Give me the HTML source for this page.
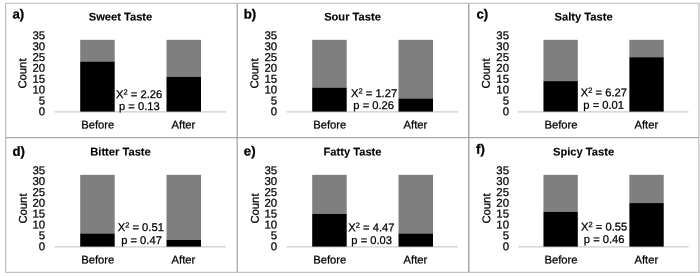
<!DOCTYPE html>
<html><head><meta charset="utf-8"><title>Taste charts</title>
<style>
html,body{margin:0;padding:0;background:#fff;}
body{width:700px;height:276px;overflow:hidden;}
svg{display:block;filter:blur(0.45px);}
text{font-family:"Liberation Sans",sans-serif;fill:#000;stroke:#000;stroke-width:0.25px;text-rendering:geometricPrecision;}
.t{font-size:11.15px;font-weight:bold;text-anchor:middle;stroke-width:0.1px;}
.l{font-size:13.2px;font-weight:bold;stroke-width:0.3px;}
.k{font-size:11.4px;text-anchor:end;}
.c{font-size:11.25px;text-anchor:middle;}
.s{font-size:11.2px;text-anchor:middle;}
</style></head><body>
<svg width="700" height="276" viewBox="0 0 700 276">
<rect x="0" y="0" width="700" height="276" fill="#fff"/>

<g stroke="#c2c2c2" stroke-width="1.1" fill="none">
<line x1="5" y1="3.3" x2="699.6" y2="3.3" stroke="#b8b8b8" stroke-width="1.1"/>
<line x1="698.9" y1="3.3" x2="698.9" y2="272.9" stroke="#cccccc" stroke-width="1.6"/>
<line x1="5.6" y1="3.3" x2="5.6" y2="272.9" stroke="#bebebe" stroke-width="1.2"/>
<line x1="5" y1="272.4" x2="699.6" y2="272.4" stroke="#c2c2c2" stroke-width="1.3"/>
</g>
<g stroke="#a8a8a8" stroke-width="1.3" fill="none">
<line x1="237.2" y1="3.3" x2="237.2" y2="272.4"/>
<line x1="468.8" y1="3.3" x2="468.8" y2="272.4" stroke-width="1.5"/>
<line x1="5.6" y1="137.6" x2="698.7" y2="137.6"/>
</g>

<g>
<text class="l" x="12.5" y="18.5" transform="rotate(0.03 12.5 18.5)">a)</text>
<text class="t" x="120.5" y="20.6" transform="rotate(0.03 120.5 20.6)">Sweet Taste</text>
<text class="k" x="45.1" y="115.3" transform="rotate(0.03 45.1 115.3)">0</text>
<text class="k" x="45.1" y="104.44" transform="rotate(0.03 45.1 104.44)">5</text>
<text class="k" x="45.1" y="93.59" transform="rotate(0.03 45.1 93.59)">10</text>
<text class="k" x="45.1" y="82.73" transform="rotate(0.03 45.1 82.73)">15</text>
<text class="k" x="45.1" y="71.87" transform="rotate(0.03 45.1 71.87)">20</text>
<text class="k" x="45.1" y="61.01" transform="rotate(0.03 45.1 61.01)">25</text>
<text class="k" x="45.1" y="50.16" transform="rotate(0.03 45.1 50.16)">30</text>
<text class="k" x="45.1" y="39.15" transform="rotate(0.03 45.1 39.15)">35</text>
<text class="c" transform="translate(26.2,73.5) rotate(-89.97)">Count</text>
<line x1="54.6" y1="111.85" x2="226" y2="111.85" stroke="#cdcdcd" stroke-width="1.4"/>
<rect x="80.2" y="39.84" width="34.50" height="21.71" fill="#7f7f7f"/>
<rect x="80.2" y="61.56" width="34.50" height="50.04" fill="#000"/>
<rect x="166.5" y="39.84" width="34.50" height="36.91" fill="#7f7f7f"/>
<rect x="166.5" y="76.76" width="34.50" height="34.84" fill="#000"/>
<text class="c" x="97.8" y="128.5" transform="rotate(0.03 97.8 128.5)">Before</text>
<text class="c" x="183.5" y="128.5" transform="rotate(0.03 183.5 128.5)">After</text>
<text class="s" x="139.2" y="98.0" transform="rotate(0.03 139.2 98.0)">X<tspan font-size="7.5px" dy="-3.6">2</tspan><tspan dy="3.6"> = 2.26</tspan></text>
<text class="s" x="139.4" y="110.0" transform="rotate(0.03 139.4 110.0)">p = 0.13</text>
</g>

<g>
<text class="l" x="243.7" y="18.5" transform="rotate(0.03 243.7 18.5)">b)</text>
<text class="t" x="352.5" y="20.6" transform="rotate(0.03 352.5 20.6)">Sour Taste</text>
<text class="k" x="277.1" y="115.3" transform="rotate(0.03 277.1 115.3)">0</text>
<text class="k" x="277.1" y="104.44" transform="rotate(0.03 277.1 104.44)">5</text>
<text class="k" x="277.1" y="93.59" transform="rotate(0.03 277.1 93.59)">10</text>
<text class="k" x="277.1" y="82.73" transform="rotate(0.03 277.1 82.73)">15</text>
<text class="k" x="277.1" y="71.87" transform="rotate(0.03 277.1 71.87)">20</text>
<text class="k" x="277.1" y="61.01" transform="rotate(0.03 277.1 61.01)">25</text>
<text class="k" x="277.1" y="50.16" transform="rotate(0.03 277.1 50.16)">30</text>
<text class="k" x="277.1" y="39.15" transform="rotate(0.03 277.1 39.15)">35</text>
<text class="c" transform="translate(258.2,73.5) rotate(-89.97)">Count</text>
<line x1="286.6" y1="111.85" x2="458" y2="111.85" stroke="#cdcdcd" stroke-width="1.4"/>
<rect x="312.2" y="39.84" width="34.50" height="47.77" fill="#7f7f7f"/>
<rect x="312.2" y="87.61" width="34.50" height="23.99" fill="#000"/>
<rect x="398.5" y="39.84" width="34.50" height="58.63" fill="#7f7f7f"/>
<rect x="398.5" y="98.47" width="34.50" height="13.13" fill="#000"/>
<text class="c" x="329.8" y="128.5" transform="rotate(0.03 329.8 128.5)">Before</text>
<text class="c" x="415.5" y="128.5" transform="rotate(0.03 415.5 128.5)">After</text>
<text class="s" x="374.1" y="97.1" transform="rotate(0.03 374.1 97.1)">X<tspan font-size="7.5px" dy="-3.6">2</tspan><tspan dy="3.6"> = 1.27</tspan></text>
<text class="s" x="373.7" y="109.0" transform="rotate(0.03 373.7 109.0)">p = 0.26</text>
</g>

<g>
<text class="l" x="476.5" y="18.5" transform="rotate(0.03 476.5 18.5)">c)</text>
<text class="t" x="583.58" y="20.6" transform="rotate(0.03 583.58 20.6)">Salty Taste</text>
<text class="k" x="509.02" y="115.3" transform="rotate(0.03 509.02 115.3)">0</text>
<text class="k" x="509.02" y="104.44" transform="rotate(0.03 509.02 104.44)">5</text>
<text class="k" x="509.02" y="93.59" transform="rotate(0.03 509.02 93.59)">10</text>
<text class="k" x="509.02" y="82.73" transform="rotate(0.03 509.02 82.73)">15</text>
<text class="k" x="509.02" y="71.87" transform="rotate(0.03 509.02 71.87)">20</text>
<text class="k" x="509.02" y="61.01" transform="rotate(0.03 509.02 61.01)">25</text>
<text class="k" x="509.02" y="50.16" transform="rotate(0.03 509.02 50.16)">30</text>
<text class="k" x="509.02" y="39.15" transform="rotate(0.03 509.02 39.15)">35</text>
<text class="c" transform="translate(489.7,73.5) rotate(-89.97)">Count</text>
<line x1="517.98" y1="111.85" x2="688.61" y2="111.85" stroke="#cdcdcd" stroke-width="1.4"/>
<rect x="543.46" y="39.84" width="34.35" height="41.26" fill="#7f7f7f"/>
<rect x="543.46" y="81.1" width="34.35" height="30.50" fill="#000"/>
<rect x="629.37" y="39.84" width="34.35" height="17.37" fill="#7f7f7f"/>
<rect x="629.37" y="57.21" width="34.35" height="54.39" fill="#000"/>
<text class="c" x="560.98" y="128.5" transform="rotate(0.03 560.98 128.5)">Before</text>
<text class="c" x="646.3" y="128.5" transform="rotate(0.03 646.3 128.5)">After</text>
<text class="s" x="603.9" y="96.3" transform="rotate(0.03 603.9 96.3)">X<tspan font-size="7.5px" dy="-3.6">2</tspan><tspan dy="3.6"> = 6.27</tspan></text>
<text class="s" x="603.7" y="108.7" transform="rotate(0.03 603.7 108.7)">p = 0.01</text>
</g>

<g>
<text class="l" x="12.5" y="155.8" transform="rotate(0.03 12.5 155.8)">d)</text>
<text class="t" x="120.5" y="155.6" transform="rotate(0.03 120.5 155.6)">Bitter Taste</text>
<text class="k" x="45.1" y="250.2" transform="rotate(0.03 45.1 250.2)">0</text>
<text class="k" x="45.1" y="239.34" transform="rotate(0.03 45.1 239.34)">5</text>
<text class="k" x="45.1" y="228.49" transform="rotate(0.03 45.1 228.49)">10</text>
<text class="k" x="45.1" y="217.63" transform="rotate(0.03 45.1 217.63)">15</text>
<text class="k" x="45.1" y="206.77" transform="rotate(0.03 45.1 206.77)">20</text>
<text class="k" x="45.1" y="195.91" transform="rotate(0.03 45.1 195.91)">25</text>
<text class="k" x="45.1" y="185.06" transform="rotate(0.03 45.1 185.06)">30</text>
<text class="k" x="45.1" y="174.2" transform="rotate(0.03 45.1 174.2)">35</text>
<text class="c" transform="translate(26.8,208.5) rotate(-89.97)">Count</text>
<line x1="54.6" y1="246.85" x2="226" y2="246.85" stroke="#cdcdcd" stroke-width="1.4"/>
<rect x="80.2" y="174.84" width="34.50" height="58.63" fill="#7f7f7f"/>
<rect x="80.2" y="233.47" width="34.50" height="13.13" fill="#000"/>
<rect x="166.5" y="174.84" width="34.50" height="65.14" fill="#7f7f7f"/>
<rect x="166.5" y="239.99" width="34.50" height="6.61" fill="#000"/>
<text class="c" x="97.8" y="263.5" transform="rotate(0.03 97.8 263.5)">Before</text>
<text class="c" x="183.5" y="263.5" transform="rotate(0.03 183.5 263.5)">After</text>
<text class="s" x="140.8" y="231.0" transform="rotate(0.03 140.8 231.0)">X<tspan font-size="7.5px" dy="-3.6">2</tspan><tspan dy="3.6"> = 0.51</tspan></text>
<text class="s" x="141.5" y="244.0" transform="rotate(0.03 141.5 244.0)">p = 0.47</text>
</g>

<g>
<text class="l" x="243.8" y="155.6" transform="rotate(0.03 243.8 155.6)">e)</text>
<text class="t" x="352.5" y="155.6" transform="rotate(0.03 352.5 155.6)">Fatty Taste</text>
<text class="k" x="277.1" y="250.2" transform="rotate(0.03 277.1 250.2)">0</text>
<text class="k" x="277.1" y="239.34" transform="rotate(0.03 277.1 239.34)">5</text>
<text class="k" x="277.1" y="228.49" transform="rotate(0.03 277.1 228.49)">10</text>
<text class="k" x="277.1" y="217.63" transform="rotate(0.03 277.1 217.63)">15</text>
<text class="k" x="277.1" y="206.77" transform="rotate(0.03 277.1 206.77)">20</text>
<text class="k" x="277.1" y="195.91" transform="rotate(0.03 277.1 195.91)">25</text>
<text class="k" x="277.1" y="185.06" transform="rotate(0.03 277.1 185.06)">30</text>
<text class="k" x="277.1" y="174.2" transform="rotate(0.03 277.1 174.2)">35</text>
<text class="c" transform="translate(258.8,208.5) rotate(-89.97)">Count</text>
<line x1="286.6" y1="246.85" x2="458" y2="246.85" stroke="#cdcdcd" stroke-width="1.4"/>
<rect x="312.2" y="174.84" width="34.50" height="39.09" fill="#7f7f7f"/>
<rect x="312.2" y="213.93" width="34.50" height="32.67" fill="#000"/>
<rect x="398.5" y="174.84" width="34.50" height="58.63" fill="#7f7f7f"/>
<rect x="398.5" y="233.47" width="34.50" height="13.13" fill="#000"/>
<text class="c" x="329.8" y="263.5" transform="rotate(0.03 329.8 263.5)">Before</text>
<text class="c" x="415.5" y="263.5" transform="rotate(0.03 415.5 263.5)">After</text>
<text class="s" x="371.4" y="231.3" transform="rotate(0.03 371.4 231.3)">X<tspan font-size="7.5px" dy="-3.6">2</tspan><tspan dy="3.6"> = 4.47</tspan></text>
<text class="s" x="371.7" y="244.0" transform="rotate(0.03 371.7 244.0)">p = 0.03</text>
</g>

<g>
<text class="l" x="476.1" y="153.5" transform="rotate(0.03 476.1 153.5)">f)</text>
<text class="t" x="583.58" y="155.6" transform="rotate(0.03 583.58 155.6)">Spicy Taste</text>
<text class="k" x="509.02" y="250.2" transform="rotate(0.03 509.02 250.2)">0</text>
<text class="k" x="509.02" y="239.34" transform="rotate(0.03 509.02 239.34)">5</text>
<text class="k" x="509.02" y="228.49" transform="rotate(0.03 509.02 228.49)">10</text>
<text class="k" x="509.02" y="217.63" transform="rotate(0.03 509.02 217.63)">15</text>
<text class="k" x="509.02" y="206.77" transform="rotate(0.03 509.02 206.77)">20</text>
<text class="k" x="509.02" y="195.91" transform="rotate(0.03 509.02 195.91)">25</text>
<text class="k" x="509.02" y="185.06" transform="rotate(0.03 509.02 185.06)">30</text>
<text class="k" x="509.02" y="174.2" transform="rotate(0.03 509.02 174.2)">35</text>
<text class="c" transform="translate(490.3,208.5) rotate(-89.97)">Count</text>
<line x1="517.98" y1="246.85" x2="688.61" y2="246.85" stroke="#cdcdcd" stroke-width="1.4"/>
<rect x="543.46" y="174.84" width="34.35" height="36.91" fill="#7f7f7f"/>
<rect x="543.46" y="211.76" width="34.35" height="34.84" fill="#000"/>
<rect x="629.37" y="174.84" width="34.35" height="28.23" fill="#7f7f7f"/>
<rect x="629.37" y="203.07" width="34.35" height="43.53" fill="#000"/>
<text class="c" x="560.98" y="263.5" transform="rotate(0.03 560.98 263.5)">Before</text>
<text class="c" x="646.3" y="263.5" transform="rotate(0.03 646.3 263.5)">After</text>
<text class="s" x="604.2" y="230.6" transform="rotate(0.03 604.2 230.6)">X<tspan font-size="7.5px" dy="-3.6">2</tspan><tspan dy="3.6"> = 0.55</tspan></text>
<text class="s" x="604.2" y="242.9" transform="rotate(0.03 604.2 242.9)">p = 0.46</text>
</g>

</svg></body></html>
